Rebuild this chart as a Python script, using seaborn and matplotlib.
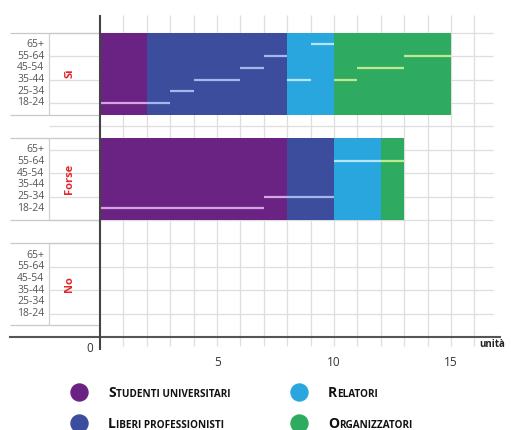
# Risposte per gruppo / categoria / fascia d'eta - barre orizzontali impilate
import matplotlib
matplotlib.use("Agg")
import matplotlib.pyplot as plt
import matplotlib.transforms as mtransforms
import pandas as pd
import seaborn as sns
import numpy as np

sns.set_style("white")
plt.rcParams["font.family"] = ["Open Sans", "DejaVu Sans"]

# Data
gruppi = ["Sì", "Forse", "No"]
categorie = ["Studenti universitari", "Liberi professionisti", "Relatori", "Organizzatori"]
eta = ["18-24", "25-34", "35-44", "45-54", "55-64", "65+"]

# conteggi per fascia d'eta (ordine di `eta`)
si_studenti = [2, 0, 0, 0, 0, 0]
si_liberi = [1, 1, 2, 1, 1, 0]
si_relatori = [0, 0, 1, 0, 0, 1]
si_organizzatori = [0, 0, 1, 2, 2, 0]
forse_studenti = [7, 1, 0, 0, 0, 0]
forse_liberi = [0, 2, 0, 0, 0, 0]
forse_relatori = [0, 0, 0, 0, 2, 0]
forse_organizzatori = [0, 0, 0, 0, 1, 0]
no_studenti = [0, 0, 0, 0, 0, 0]
no_liberi = [0, 0, 0, 0, 0, 0]
no_relatori = [0, 0, 0, 0, 0, 0]
no_organizzatori = [0, 0, 0, 0, 0, 0]

conteggi = {
    "Sì": [si_studenti, si_liberi, si_relatori, si_organizzatori],
    "Forse": [forse_studenti, forse_liberi, forse_relatori, forse_organizzatori],
    "No": [no_studenti, no_liberi, no_relatori, no_organizzatori],
}

colori = ["#6b2383", "#3c4d9d", "#2aa6df", "#2eab61"]
colori_linee = ["#d2a6e2", "#a7b6ee", "#b5e6f8", "#bfe98e"]
colore_gruppo = "#e3262b"

# layout (unita del grafico)
base = {"Sì": 9.5, "Forse": 5.0, "No": 0.5}
alto = 3.5
passo_eta = 0.5

rows = []
for g in gruppi:
    for c, cat in enumerate(categorie):
        for e, fascia in enumerate(eta):
            rows.append({"gruppo": g, "categoria": cat, "eta": fascia, "n": conteggi[g][c][e]})
df = pd.DataFrame(rows)

tot = df.pivot_table(index="gruppo", columns="categoria", values="n", aggfunc="sum")[categorie]
tot = tot.loc[gruppi]
cum = tot.cumsum(axis=1)
cum["centro"] = [base[g] + alto / 2 for g in cum.index]

fig = plt.figure(figsize=(5.11, 4.30), dpi=100)
ax = fig.add_axes([10 / 511, 93 / 430, 490 / 511, 322 / 430])

# barre impilate: si disegnano i totali cumulati dal piu lungo al piu corto
for i in reversed(range(len(categorie))):
    sns.barplot(data=cum.reset_index(), x=categorie[i], y="centro", orient="h",
                native_scale=True, width=alto / 4.5, color=colori[i], saturation=1,
                errorbar=None, ax=ax, zorder=3, linewidth=0, edgecolor="none")

# linee per fascia d'eta dentro ogni segmento
for g in gruppi:
    start = 0
    for c in range(len(categorie)):
        for e in range(len(eta)):
            n = conteggi[g][c][e]
            if n > 0:
                y = base[g] + passo_eta * (e + 1)
                ax.hlines(y, start, start + n, color=colori_linee[c], lw=1.6, zorder=4)
                start += n

x_min, x_max = -3.85, 17.09
y_top = 13.76

# griglia
for x in range(1, 17):
    ax.vlines(x, -0.4, y_top, color="#dedede", lw=0.9, zorder=1, clip_on=False)
for y in range(1, 14):
    ax.hlines(y, -2.18, 16.8, color="#dedede", lw=0.9, zorder=1)

# riquadri etichette a sinistra
for g in gruppi:
    b = base[g]
    ax.hlines([b, b + alto], x_min, 0, color="#c8c8c8", lw=0.9, zorder=2)
    ax.vlines(-2.18, b, b + alto, color="#d0d0d0", lw=0.9, zorder=2)
    for e, fascia in enumerate(eta):
        ax.text(-2.38, b + passo_eta * (e + 1), fascia, ha="right", va="center",
                fontsize=7.5, color="#555555")
    ax.text(-1.3, b + alto / 2, g, rotation=90, ha="center", va="center",
            fontsize=8, fontweight="bold", color=colore_gruppo)

# assi
ax.vlines(0, -0.55, y_top, color="#444444", lw=1.5, zorder=5, clip_on=False)
ax.set_xlim(x_min, x_max)
ax.set_ylim(0, y_top)
for s in ["top", "right", "left"]:
    ax.spines[s].set_visible(False)
ax.spines["bottom"].set_color("#555555")
ax.spines["bottom"].set_linewidth(1.5)
ax.set_xticks([5, 10, 15])
ax.set_xticklabels(["5", "10", "15"])
ax.tick_params(axis="x", length=11, width=1.2, color="#555555", labelsize=8.5,
               labelcolor="#333333", pad=3)
ax.set_yticks([])
ax.set_xlabel("")
ax.set_ylabel("")
ax.text(-0.3, -0.48, "0", ha="right", va="center", fontsize=8.5, color="#333333")
ax.text(16.2, -0.08, "unità", ha="left", va="top", fontsize=7, fontweight="bold",
        color="#222222", clip_on=False, zorder=6)

# legenda (maiuscoletto)
pos_leg = [(-0.9, -2.35), (-0.9, -3.68), (8.5, -2.35), (8.5, -3.68)]
fig.canvas.draw()
renderer = fig.canvas.get_renderer()
for i, (px, py) in enumerate(pos_leg):
    ax.scatter([px], [py], s=150, color=colori[i], clip_on=False, zorder=5)
    nome = categorie[i]
    yb = py - 0.2
    t1 = ax.text(px + 1.24, yb, nome[0].upper(), ha="left", va="baseline",
                 fontsize=10, fontweight="bold", color="#111111", clip_on=False)
    w = t1.get_window_extent(renderer).width
    tr = mtransforms.offset_copy(ax.transData, fig=fig, x=w * 72 / fig.dpi + 0.3, y=0,
                                 units="points")
    ax.text(px + 1.24, yb, nome[1:].upper(), ha="left", va="baseline", transform=tr,
            fontsize=7.2, fontweight="bold", color="#111111", clip_on=False)

fig.savefig("out.png", dpi=100)
